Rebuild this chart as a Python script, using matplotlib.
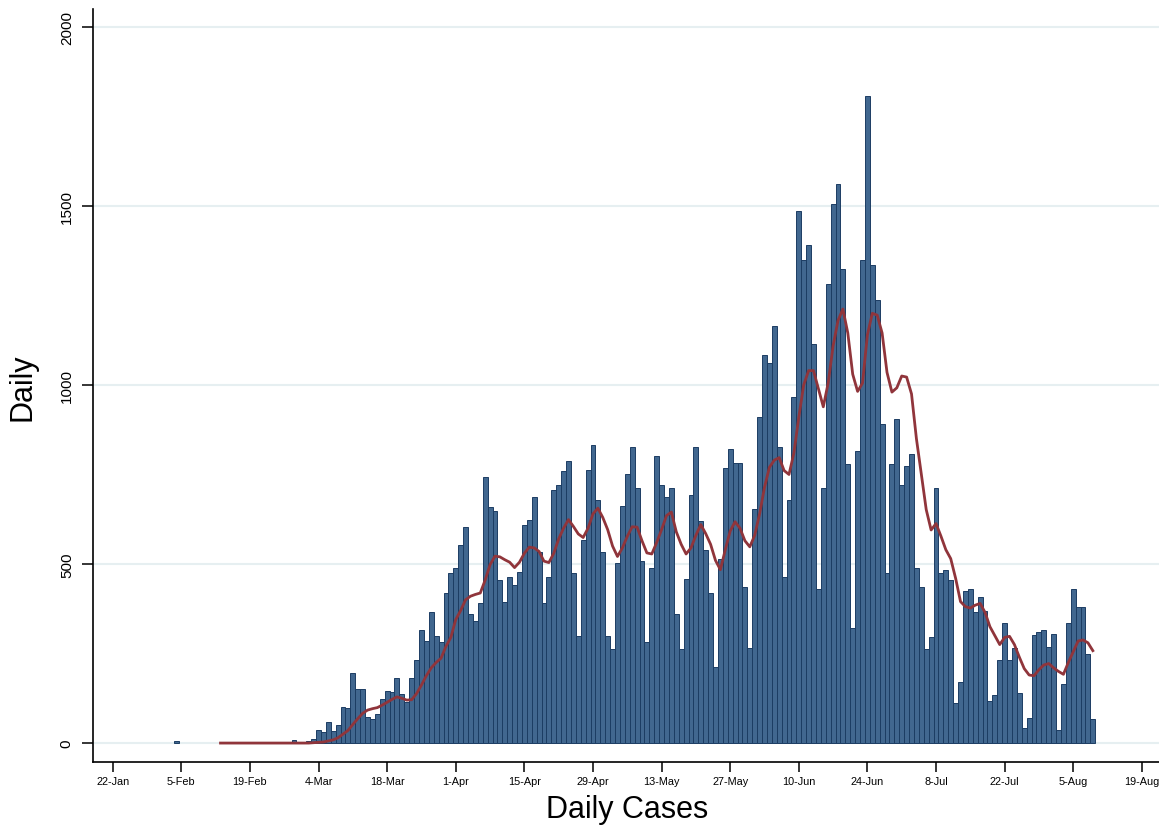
import matplotlib
matplotlib.use('Agg')
import matplotlib.pyplot as plt
import matplotlib.dates as mdates
import pandas as pd

# daily new cases, one value per day starting 4 Feb 2020
bar_start = '2020-02-04'
daily_cases = [6] + [0] * 21 + [
    3, 3, 9, 0, 1, 5, 12, 37, 30, 58, 35, 50, 102, 97, 197, 151, 151, 72, 67, 81,
    123, 146, 142, 181, 137, 116, 181, 231, 316, 285, 365, 300, 282, 420, 475, 490,
    554, 602, 360, 341, 391, 742, 658, 647, 454, 394, 465, 440, 479, 609, 624, 687,
    533, 391, 465, 708, 722, 761, 787, 475, 299, 568, 762, 832, 678, 533, 300, 262,
    504, 663, 752, 826, 712, 509, 282, 489, 801, 722, 687, 712, 361, 262, 459, 692,
    826, 619, 538, 420, 213, 515, 767, 822, 783, 783, 435, 266, 653, 910, 1085, 1060,
    1165, 827, 465, 679, 967, 1486, 1348, 1392, 1114, 430, 713, 1281, 1505, 1560, 1324, 778,
    321, 815, 1348, 1808, 1336, 1236, 891, 476, 778, 905, 721, 773, 808, 490, 436, 262,
    295, 713, 475, 484, 456, 112, 171, 425, 430, 367, 409, 369, 117, 134, 232, 335,
    232, 266, 141, 43, 71, 302, 311, 316, 267, 305, 37, 166, 335, 430, 379, 379,
    250, 66]

# smoothed line, one value per day from 13 Feb 2020
ma_start = '2020-02-13'
ma_values = [0] * 19 + [
    1, 2, 3, 6, 9, 15, 25, 35, 52, 68, 83, 92, 96, 99, 106, 114, 122, 129, 125, 120,
    121, 138, 162, 188, 210, 225, 237, 270, 295, 345, 370, 400, 410, 415, 419, 455,
    498, 522, 520, 512, 505, 490, 505, 530, 547, 545, 535, 508, 504, 530, 570, 600,
    624, 605, 584, 574, 600, 640, 656, 630, 596, 550, 521, 545, 577, 604, 603, 565,
    531, 528, 560, 596, 635, 645, 590, 555, 528, 545, 580, 610, 585, 555, 510, 484,
    540, 592, 618, 600, 565, 548, 580, 640, 714, 770, 790, 797, 761, 750, 810, 910,
    1000, 1040, 1040, 990, 939, 1006, 1109, 1180, 1212, 1145, 1030, 982, 1005, 1140, 1200, 1195,
    1145, 1035, 980, 992, 1025, 1022, 975, 850, 752, 652, 595, 613, 578, 540, 515, 460,
    395, 381, 377, 385, 390, 365, 325, 300, 275, 295, 298, 275, 240, 208, 190, 188,
    205, 218, 222, 210, 200, 192, 225, 255, 285, 288, 280, 258]

tick_dates = ['2020-01-22', '2020-02-05', '2020-02-19', '2020-03-04', '2020-03-18',
              '2020-04-01', '2020-04-15', '2020-04-29', '2020-05-13', '2020-05-27',
              '2020-06-10', '2020-06-24', '2020-07-08', '2020-07-22', '2020-08-05',
              '2020-08-19']
tick_labels = ['22-Jan', '5-Feb', '19-Feb', '4-Mar', '18-Mar', '1-Apr', '15-Apr',
               '29-Apr', '13-May', '27-May', '10-Jun', '24-Jun', '8-Jul', '22-Jul',
               '5-Aug', '19-Aug']
y_ticks = [0, 500, 1000, 1500, 2000]

plt.rcParams['font.family'] = ['Liberation Sans', 'DejaVu Sans']

bars = pd.DataFrame({'date': pd.date_range(bar_start, periods=len(daily_cases), freq='D'),
                     'cases': daily_cases})
bars = bars[bars['cases'] > 0]  # zero days draw nothing
ma_dates = pd.date_range(ma_start, periods=len(ma_values), freq='D')

fig = plt.figure(figsize=(11.59, 8.29), dpi=100)
ax = fig.add_axes([0.0805, 0.080, 0.9195, 0.908])

ax.bar(bars['date'], bars['cases'], width=1.0, color='#41678f',
       edgecolor='#1c3d63', linewidth=0.7, zorder=2)
ax.plot(ma_dates, ma_values, color='#90353b', linewidth=2.0, zorder=3)

t0 = mdates.date2num(pd.Timestamp('2020-01-22'))
ax.set_xlim(t0 - 3.96, t0 + 213.5)
ax.set_ylim(-52, 2050)

ax.set_xticks(mdates.date2num(pd.to_datetime(tick_dates)))
ax.set_xticklabels(tick_labels, fontsize=7.8)
ax.set_yticks(y_ticks)
ax.set_yticklabels([str(v) for v in y_ticks], fontsize=11, rotation=90, va='center')

ax.tick_params(axis='x', length=7.5, width=1.1, pad=3, color='black')
ax.tick_params(axis='y', length=8, width=1.1, pad=6, color='black')

ax.yaxis.grid(True, color='#e6eff1', linewidth=1.5)
ax.set_axisbelow(True)

for side in ['top', 'right']:
    ax.spines[side].set_visible(False)
for side in ['left', 'bottom']:
    ax.spines[side].set_linewidth(1.2)
    ax.spines[side].set_color('black')

fig.text(0.5414, 0.0235, 'Daily Cases', fontsize=22, ha='center', va='center')
fig.text(22 / 1159, 1 - 387 / 829, 'Daily', fontsize=22, rotation=90,
         ha='center', va='center')

fig.savefig('out.png', dpi=100)
